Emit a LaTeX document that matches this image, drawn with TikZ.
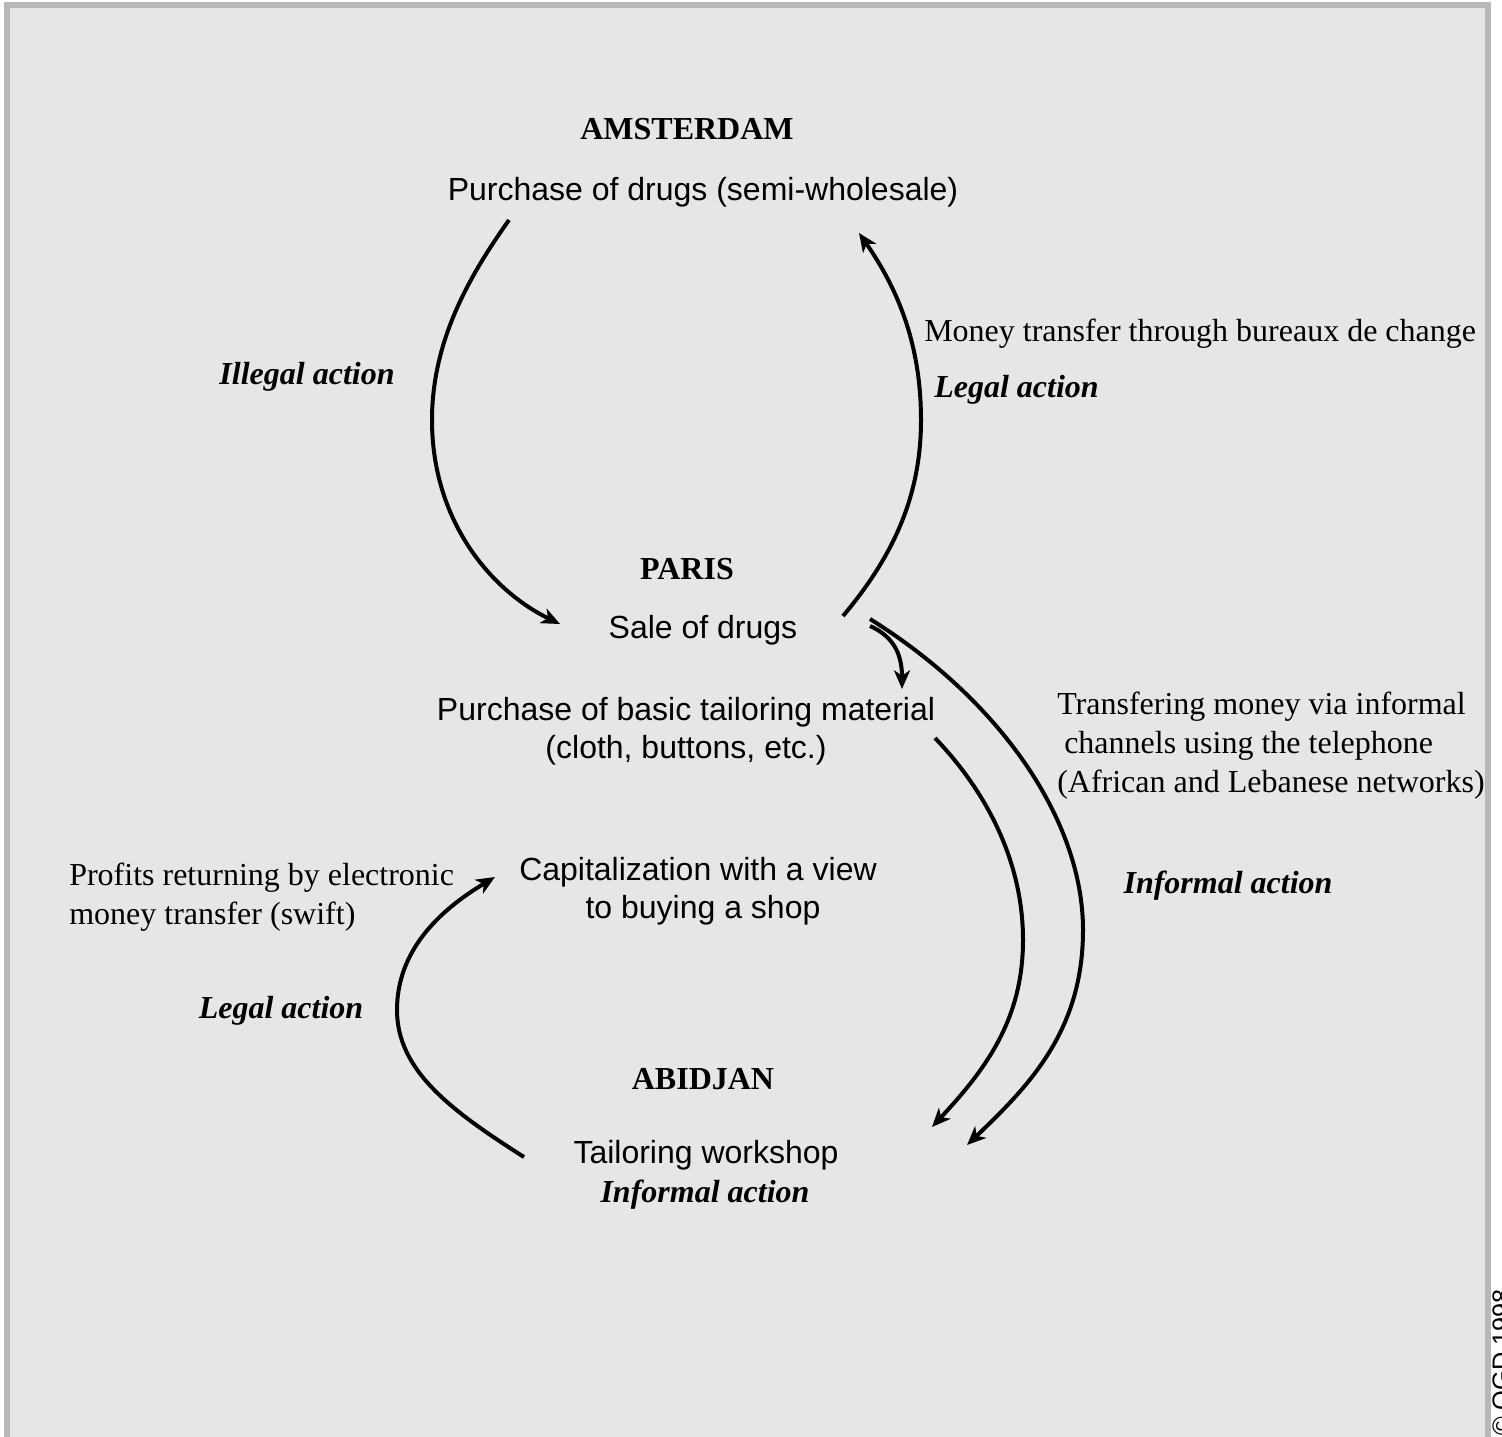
\documentclass[tikz,border=0pt]{standalone}
\usepackage{fontspec}
\setmainfont{Liberation Serif}
\setsansfont{Liberation Sans}
\usetikzlibrary{arrows.meta}
\definecolor{bgc}{HTML}{E6E6E6}
\definecolor{framec}{HTML}{B8B8B8}
\tikzset{
  lbl/.style={inner sep=0pt,anchor=base,font=\fontsize{24}{28}\selectfont},
  lblL/.style={lbl,anchor=base west},
  ttl/.style={lbl,font=\fontsize{24}{28}\selectfont\bfseries},
  act/.style={lbl,font=\fontsize{24}{28}\selectfont\bfseries\itshape},
  actL/.style={act,anchor=base west},
  sfl/.style={lbl,font=\fontsize{24}{28}\selectfont\sffamily},
  flow/.style={line width=3pt,-{Stealth[length=14pt,width=12pt,inset=4pt]}},
}
\begin{document}
\begin{tikzpicture}[x=0.75pt,y=-0.75pt]
\useasboundingbox (0,0) rectangle (1502,1436);
\fill[white] (0,0) rectangle (1502,1436);
\draw[framec,fill=bgc,line width=4.5pt] (7,5) rectangle (1488,1445);
% texts
\node[ttl] (ams) at (687,139) {AMSTERDAM};
\node[sfl] (purch) at (703,200) {Purchase of drugs (semi-wholesale)};
\node[act] (illegal) at (307,384) {Illegal action};
\node[lblL] (money) at (924,341) {Money transfer through bureaux de change};
\node[actL] (legal1) at (934,397) {Legal action};
\node[ttl] (paris) at (687,579) {PARIS};
\node[sfl] (sale) at (703,638) {Sale of drugs};
\node[sfl] (basic1) at (686,720) {Purchase of basic tailoring material};
\node[sfl] (basic2) at (686,758) {(cloth, buttons, etc.)};
\node[lblL] (tr1) at (1057,714) {Transfering money via informal};
\node[lblL] (tr2) at (1064,753) {channels using the telephone};
\node[lblL] (tr3) at (1057,792) {(African and Lebanese networks)};
\node[act] (inf1) at (1228,893) {Informal action};
\node[lblL] (pr1) at (69,885) {Profits returning by electronic};
\node[lblL] (pr2) at (69,924) {money transfer (swift)};
\node[sfl] (cap1) at (698,880) {Capitalization with a view};
\node[sfl] (cap2) at (703,918) {to buying a shop};
\node[act] (legal2) at (281,1018) {Legal action};
\node[ttl] (abi) at (703,1089) {ABIDJAN};
\node[sfl] (tail) at (706,1163) {Tailoring workshop};
\node[act] (inf2) at (705,1202) {Informal action};
\node[sfl,rotate=90,anchor=base west,font=\fontsize{19}{22}\selectfont\sffamily] (copy) at (1510,1436) {\textcopyright{} OGD 1998};
% arrow end points
\coordinate (a1s) at (509,220);
\coordinate (a1e) at (560,624);
\coordinate (a2s) at (843,616);
\coordinate (a2e) at (859,233);
\coordinate (a3s) at (870,626);
\coordinate (a3e) at (902,689);
\coordinate (a4s) at (870,619);
\coordinate (a4e) at (967,1145);
\coordinate (a5s) at (935,738);
\coordinate (a5e) at (932,1127);
\coordinate (a6s) at (524,1157);
\coordinate (a6e) at (495,877);
% arrows
\draw[flow] (a1s) .. controls (470,275) and (432,340) .. (432,420)
  .. controls (432,520) and (490,590) .. (a1e);
\draw[flow] (a2s) .. controls (890,560) and (921,500) .. (921,420)
  .. controls (921,340) and (895,285) .. (a2e);
\draw[flow] (a3s) .. controls (890,635) and (902,650) .. (a3e);
\draw[flow] (a4s) .. controls (1000,700) and (1083,820) .. (1083,930)
  .. controls (1083,1030) and (1030,1085) .. (a4e);
\draw[flow] (a5s) .. controls (985,790) and (1023,860) .. (1023,940)
  .. controls (1023,1020) and (985,1070) .. (a5e);
\draw[flow] (a6s) .. controls (450,1110) and (397,1070) .. (397,1010)
  .. controls (397,950) and (440,910) .. (a6e);
\end{tikzpicture}
\end{document}
